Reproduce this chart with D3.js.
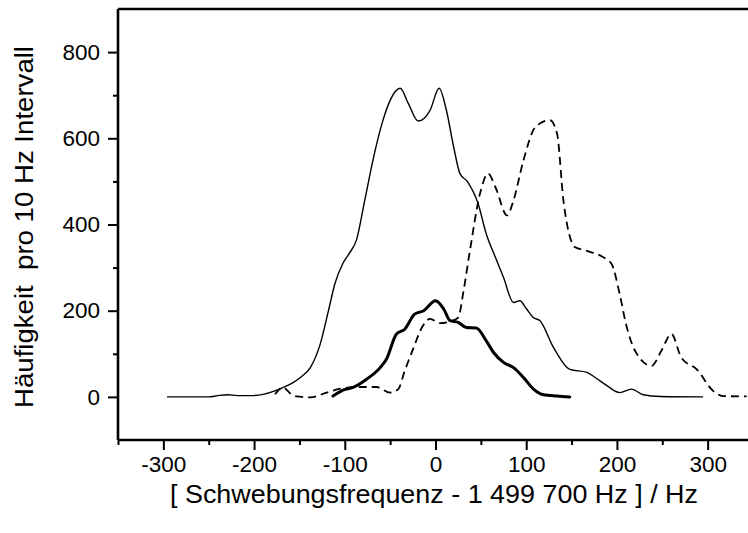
<!DOCTYPE html>
<html>
<head>
<meta charset="utf-8">
<script src="https://cdn.jsdelivr.net/npm/d3@7"></script>
<style>
  html, body { margin: 0; padding: 0; background: #fff; }
  svg { display: block; font-family: "Liberation Sans", Arial, Helvetica, sans-serif; }
</style>
</head>
<body>
<svg id="chart" width="748" height="533"></svg>
<script>
// Frequency offsets (Hz) and counts per 10 Hz bin for the three distributions
const freqThin  = [-296, -250, -240, -229, -218, -204, -190, -177, -168, -158, -149, -138, -127, -118, -111, -102, -95, -87, -78, -69, -59, -50, -39, -30, -19, -6, 4, 12, 20, 27, 35, 47, 56, 66, 75, 86, 93, 100, 108, 115, 130, 148, 167, 176, 189, 203, 216, 229, 248, 295];
const countThin = [0, 0, 3, 5, 3, 3, 6, 14, 22, 32, 45, 68, 123, 200, 262, 310, 333, 365, 456, 549, 634, 688, 716, 681, 640, 665, 716, 665, 580, 518, 500, 448, 378, 324, 277, 219, 223, 205, 184, 177, 115, 64, 57, 45, 26, 10, 18, 5, 1, 0];

const freqThick  = [-113, -102, -91, -76, -61, -54, -43, -34, -23, -13, 0, 9, 16, 25, 34, 45, 56, 64, 75, 86, 97, 108, 119, 134, 148];
const countThick = [2, 16, 22, 41, 68, 88, 146, 157, 192, 200, 223, 204, 177, 173, 161, 160, 130, 103, 80, 68, 45, 18, 5, 2, 0];

const freqDashed  = [-177, -168, -160, -153, -138, -120, -105, -83, -65, -50, -41, -34, -24, -15, -6, 5, 16, 25, 31, 38, 49, 58, 66, 79, 86, 97, 110, 126, 134, 141, 154, 165, 185, 194, 203, 210, 220, 238, 249, 260, 271, 288, 306, 317, 343];
const countDashed = [6, 22, 8, 1, -1, 10, 19, 23, 23, 10, 18, 60, 115, 161, 181, 171, 175, 184, 247, 340, 471, 518, 487, 421, 456, 549, 626, 642, 611, 456, 347, 340, 324, 309, 239, 169, 107, 72, 107, 146, 91, 64, 14, 2, 1];

// Axis ticks
const xMajorTicks = [-300, -200, -100, 0, 100, 200, 300];
const xMinorTicks = [-350, -250, -150, -50, 50, 150, 250, 350];
const yMajorTicks = [0, 200, 400, 600, 800];
const yMinorTicks = [100, 300, 500, 700];

const xLabel = "[ Schwebungsfrequenz - 1 499 700 Hz ] / Hz";
const yLabel = "Häufigkeit  pro 10 Hz Intervall";

const svg = d3.select("#chart");
const W = 748;

const x = d3.scaleLinear().domain([-350, 350]).range([118, 753]);
const y = d3.scaleLinear().domain([-100, 900]).range([440, 9]);

const plotLeft = x(-350), plotBottom = y(-100), plotTop = y(900);

// Curves
const toPoints = (xs, ys) => xs.map((v, i) => [v, ys[i]]);
const line = d3.line()
  .x(d => x(d[0]))
  .y(d => y(d[1]))
  .curve(d3.curveMonotoneX);

const plot = svg.append("g");
plot.append("path")
  .datum(toPoints(freqThin, countThin))
  .attr("d", line)
  .attr("fill", "none")
  .attr("stroke", "#000")
  .attr("stroke-width", 1.4)
  .attr("stroke-linejoin", "round");

plot.append("path")
  .datum(toPoints(freqDashed, countDashed))
  .attr("d", line)
  .attr("fill", "none")
  .attr("stroke", "#000")
  .attr("stroke-width", 1.8)
  .attr("stroke-dasharray", "8,5");

plot.append("path")
  .datum(toPoints(freqThick, countThick))
  .attr("d", line)
  .attr("fill", "none")
  .attr("stroke", "#000")
  .attr("stroke-width", 3)
  .attr("stroke-linejoin", "round")
  .attr("stroke-linecap", "round");

// Axes (plain hyphen for negative tick labels)
const fmt = d => String(d);
const xAxisMajor = d3.axisBottom(x).tickValues(xMajorTicks).tickSize(10).tickPadding(6).tickFormat(fmt);
const xAxisMinor = d3.axisBottom(x).tickValues(xMinorTicks).tickSize(5).tickFormat("");
const yAxisMajor = d3.axisLeft(y).tickValues(yMajorTicks).tickSize(10).tickPadding(8).tickFormat(fmt);
const yAxisMinor = d3.axisLeft(y).tickValues(yMinorTicks).tickSize(5).tickFormat("");

function styleAxis(g) {
  g.select(".domain").remove();
  g.selectAll(".tick line").attr("stroke", "#000").attr("stroke-width", 2);
  g.selectAll(".tick text")
    .attr("fill", "#000")
    .style("font-size", "22.5px")
    .style("font-family", "'Liberation Sans', Arial, sans-serif");
}

svg.append("g").attr("transform", `translate(0,${plotBottom})`).call(xAxisMajor).call(styleAxis);
svg.append("g").attr("transform", `translate(0,${plotBottom})`).call(xAxisMinor).call(styleAxis);
svg.append("g").attr("transform", `translate(${plotLeft},0)`).call(yAxisMajor).call(styleAxis);
svg.append("g").attr("transform", `translate(${plotLeft},0)`).call(yAxisMinor).call(styleAxis);

// Frame lines
svg.append("path")
  .attr("d", `M${plotLeft},${plotTop} H${W + 5} M${plotLeft},${plotTop} V${plotBottom} M${plotLeft},${plotBottom} H${W + 5}`)
  .attr("fill", "none")
  .attr("stroke", "#000")
  .attr("stroke-width", 2.6);

// Axis titles
svg.append("text")
  .attr("x", 434)
  .attr("y", 503)
  .attr("text-anchor", "middle")
  .attr("textLength", 528)
  .attr("lengthAdjust", "spacingAndGlyphs")
  .style("font-size", "25px")
  .text(xLabel);

svg.append("text")
  .attr("transform", "translate(33,227) rotate(-90)")
  .attr("text-anchor", "middle")
  .attr("textLength", 362)
  .attr("lengthAdjust", "spacingAndGlyphs")
  .style("font-size", "25px")
  .style("white-space", "pre")
  .text(yLabel);
</script>
</body>
</html>
